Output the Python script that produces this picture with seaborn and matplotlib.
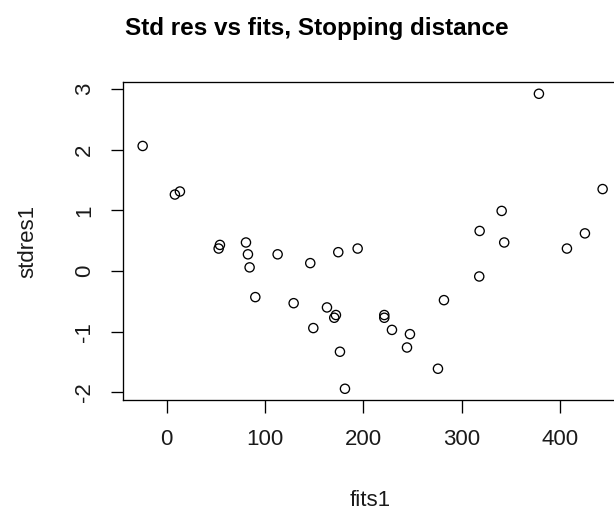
import matplotlib
matplotlib.use("Agg")
import matplotlib.pyplot as plt
import seaborn as sns
import pandas as pd

fits1 = [-24.4, 8.4, 13.5, 54.2, 52.9, 80.7, 82.7, 84.4, 90.2, 112.9,
         129.2, 146.1, 149.2, 163.1, 172.2, 170.5, 174.6, 194.3, 176.3, 181.4,
         221.4, 221.4, 229.2, 247.5, 244.5, 276.0, 282.1, 318.0, 343.4, 407.2,
         378.7, 443.5, 340.8, 318.4, 425.5]
stdres1 = [2.06, 1.26, 1.31, 0.43, 0.37, 0.47, 0.275, 0.06, -0.43, 0.275,
           -0.53, 0.13, -0.94, -0.60, -0.725, -0.77, 0.31, 0.37, -1.33, -1.94,
           -0.725, -0.77, -0.97, -1.04, -1.26, -1.61, -0.48, -0.09, 0.47, 0.37,
           2.92, 1.35, 0.99, 0.66, 0.62]
x_ticks = [0, 100, 200, 300, 400]
y_ticks = [-2, -1, 0, 1, 2, 3]

df = pd.DataFrame({"fits1": fits1, "stdres1": stdres1})

sns.set_theme(style="white")
plt.rcParams["font.family"] = ["Liberation Sans", "DejaVu Sans"]

W, H = 614, 513
fig = plt.figure(figsize=(W / 100, H / 100), dpi=100)
ax = fig.add_axes([122.7 / W, (H - 400) / H, (621 - 122.7) / W, (400 - 82.3) / H])

sns.scatterplot(data=df, x="fits1", y="stdres1", ax=ax, marker="o", s=44,
                facecolor="none", edgecolor="black", linewidth=0.95, legend=False)

ax.set_xlim(-44.7, 462.2)
ax.set_ylim(-2.125, 3.109)
ax.set_xticks(x_ticks)
ax.set_yticks(y_ticks)
ax.set_xticklabels([str(t) for t in x_ticks])
ax.set_yticklabels([str(t) for t in y_ticks], rotation=90, va="center")

for sp in ax.spines.values():
    sp.set_visible(True)
    sp.set_color("black")
    sp.set_linewidth(0.95)

ax.tick_params(axis="both", direction="out", length=9, width=0.95, color="black",
               labelsize=16, labelcolor="#1a1a1a", bottom=True, left=True)
ax.tick_params(axis="x", pad=12)
ax.tick_params(axis="y", pad=11)

ax.set_xlabel("fits1", fontsize=16, color="#1a1a1a", va="center")
ax.set_ylabel("stdres1", fontsize=16, color="#1a1a1a", va="center")
ax.xaxis.set_label_coords((370 - 122.7) / (621 - 122.7), (400 - 501) / (400 - 82.3))
ax.yaxis.set_label_coords((28 - 122.7) / (621 - 122.7), (400 - 241) / (400 - 82.3))

fig.text(317 / W, 1 - 29 / H, "Std res vs fits, Stopping distance", ha="center",
         va="center", fontsize=17.5, fontweight="bold", color="black")

fig.savefig("out.png", dpi=100, facecolor="white")
